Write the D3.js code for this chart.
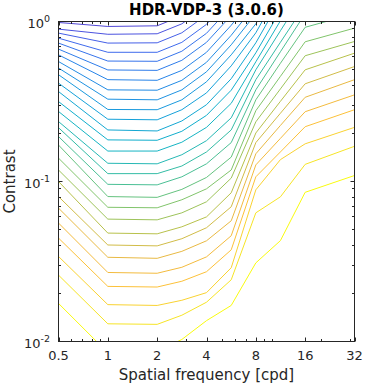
<!DOCTYPE html>
<html>
<head>
<meta charset="utf-8">
<script src="https://cdn.jsdelivr.net/npm/d3@7"></script>
<style>
    body { margin: 0; background: #fff; }
    svg { font-family: "DejaVu Sans", sans-serif; }
</style>
</head>
<body>
<svg id="plot" width="365" height="387"></svg>
<script>
// frequency nodes (cpd) where the contour lines bend
const freqs = [0.5, 1, 2, 2.83, 4, 5.66, 8, 11.3, 16, 32];

// contrast of every contour line at the nodes above, top line first
const contourLines = [
    [0.986, 0.931, 0.940, 1.085],
    [0.896, 0.832, 0.838, 0.967, 1.25],
    [0.846, 0.733, 0.736, 0.850, 1.10],
    [0.787, 0.642, 0.642, 0.741, 0.960, 1.42],
    [0.733, 0.566, 0.564, 0.652, 0.844, 1.24],
    [0.672, 0.498, 0.495, 0.572, 0.741, 1.09],
    [0.619, 0.433, 0.429, 0.495, 0.642, 0.947, 1.48],
    [0.562, 0.374, 0.372, 0.429, 0.556, 0.820, 1.28],
    [0.512, 0.327, 0.324, 0.374, 0.485, 0.715, 1.12],
    [0.465, 0.282, 0.281, 0.324, 0.420, 0.619, 0.967, 1.72],
    [0.412, 0.245, 0.243, 0.281, 0.358, 0.528, 0.850, 1.60],
    [0.365, 0.210, 0.207, 0.239, 0.302, 0.439, 0.736, 1.37],
    [0.316, 0.182, 0.181, 0.206, 0.259, 0.372, 0.637, 1.17],
    [0.274, 0.155, 0.155, 0.176, 0.218, 0.308, 0.560, 1.01, 1.82],
    [0.237, 0.130, 0.129, 0.147, 0.180, 0.250, 0.499, 0.875, 1.53],
    [0.217, 0.112, 0.112, 0.125, 0.153, 0.210, 0.433, 0.741, 1.27],
    [0.191, 0.0960, 0.0953, 0.107, 0.129, 0.175, 0.374, 0.647, 1.12, 1.37],
    [0.169, 0.0805, 0.0796, 0.0893, 0.106, 0.142, 0.324, 0.548, 0.920, 1.12],
    [0.140, 0.0690, 0.0685, 0.0769, 0.0900, 0.118, 0.277, 0.454, 0.747, 0.909],
    [0.118, 0.0582, 0.0576, 0.0637, 0.0747, 0.105, 0.236, 0.379, 0.611, 0.750],
    [0.100, 0.0476, 0.0471, 0.0521, 0.0601, 0.0850, 0.201, 0.317, 0.499, 0.634],
    [0.0805, 0.0401, 0.0396, 0.0439, 0.0514, 0.0695, 0.175, 0.267, 0.408, 0.523],
    [0.0682, 0.0336, 0.0331, 0.0366, 0.0426, 0.0568, 0.149, 0.224, 0.336, 0.433],
    [0.0550, 0.0270, 0.0267, 0.0291, 0.0338, 0.0458, 0.127, 0.186, 0.273, 0.348],
    [0.0443, 0.0221, 0.0219, 0.0238, 0.0273, 0.0374, 0.107, 0.153, 0.220, 0.281],
    [0.0340, 0.0170, 0.0168, 0.0181, 0.0202, 0.0289, 0.0887, 0.137, 0.172, 0.218],
    [0.0260, 0.0129, 0.0128, 0.0146, 0.0176, 0.0243, 0.0637, 0.0802, 0.128, 0.166],
    [0.0173, 0.00851, 0.00863, 0.0103, 0.0135, 0.0168, 0.0310, 0.0427, 0.0856, 0.109]
];

const xTicks = [0.5, 1, 2, 4, 8, 16, 32];
const xTickLabels = ["0.5", "1", "2", "4", "8", "16", "32"];
const yTicks = [1, 0.1, 0.01];
const yTickExps = ["0", "-1", "-2"];

const svg = d3.select("#plot");
const mLeft = 58.5, mRight = 354.5, mTop = 21.5, mBottom = 341.5;
const axisCol = "#262626";

const x = d3.scaleLog().domain([0.5, 32]).range([mLeft, mRight]);
const y = d3.scaleLog().domain([0.01, 1]).range([mBottom, mTop]);

// parula-like colormap
const parula = d3.scaleLinear()
    .domain([0, 0.06, 0.15, 0.25, 0.4, 0.5, 0.6, 0.68, 0.75, 0.82, 0.89, 0.96, 1])
    .range(["#352a87", "#5046d6", "#4266ec", "#2a80ea", "#159fda", "#10b2c8", "#3cbe9e",
            "#7cc46e", "#b4c24c", "#e6b844", "#fcbe3a", "#f6e02a", "#f9fb0e"]);

svg.append("clipPath").attr("id", "clip")
    .append("rect")
    .attr("x", mLeft).attr("y", mTop)
    .attr("width", mRight - mLeft).attr("height", mBottom - mTop);

const line = d3.line()
    .x(function(d, i) {return x(freqs[i])})
    .y(function(d) {return y(d)});

svg.append("g")
    .attr("clip-path", "url(#clip)")
    .selectAll("path")
    .data(contourLines)
    .enter().append("path")
        .attr("d", line)
        .attr("fill", "none")
        .attr("stroke-width", 1)
        .attr("stroke", function(d, i) {return parula(0.06 + 0.94 * i / (contourLines.length - 1))});

//frame
svg.append("rect")
    .attr("x", mLeft).attr("y", mTop)
    .attr("width", mRight - mLeft).attr("height", mBottom - mTop)
    .attr("fill", "none")
    .attr("stroke", axisCol)
    .attr("stroke-width", 1);

//ticks, inward on all four sides
const xMinor = x.ticks().filter(function(t) {return xTicks.indexOf(t) < 0});
const yMinor = y.ticks().filter(function(t) {return yTicks.indexOf(t) < 0});
const tg = svg.append("g").attr("stroke", axisCol).attr("stroke-width", 1);

xTicks.concat(xMinor).forEach(function(t) {
    const len = xTicks.indexOf(t) >= 0 ? 4 : 2.5;
    const px = Math.round(x(t)) + 0.5;
    tg.append("line").attr("x1", px).attr("x2", px).attr("y1", mBottom).attr("y2", mBottom - len);
    tg.append("line").attr("x1", px).attr("x2", px).attr("y1", mTop).attr("y2", mTop + len);
});
yTicks.concat(yMinor).forEach(function(t) {
    const len = yTicks.indexOf(t) >= 0 ? 4 : 2.5;
    const py = Math.round(y(t) - 0.5) + 0.5;
    tg.append("line").attr("x1", mLeft).attr("x2", mLeft + len).attr("y1", py).attr("y2", py);
    tg.append("line").attr("x1", mRight).attr("x2", mRight - len).attr("y1", py).attr("y2", py);
});

//tick labels
svg.selectAll(".xlab")
    .data(xTicks)
    .enter().append("text")
        .attr("x", function(d) {return x(d)})
        .attr("y", 360)
        .attr("text-anchor", "middle")
        .attr("font-size", "13px")
        .attr("fill", axisCol)
        .text(function(d, i) {return xTickLabels[i]});

yTicks.forEach(function(t, i) {
    const lab = svg.append("text")
        .attr("x", 50)
        .attr("y", y(t) + 6)
        .attr("text-anchor", "end")
        .attr("font-size", "13px")
        .attr("fill", axisCol);
    lab.append("tspan").text("10");
    lab.append("tspan")
        .attr("dy", -6)
        .attr("font-size", "9.5px")
        .text(yTickExps[i]);
});

//axis titles
svg.append("text")
    .attr("x", (mLeft + mRight) / 2)
    .attr("y", 380)
    .attr("text-anchor", "middle")
    .attr("font-size", "15px")
    .attr("fill", axisCol)
    .text("Spatial frequency [cpd]");

svg.append("text")
    .attr("transform", "translate(15," + ((mTop + mBottom) / 2) + ") rotate(-90)")
    .attr("text-anchor", "middle")
    .attr("font-size", "15px")
    .attr("fill", axisCol)
    .text("Contrast");

svg.append("text")
    .attr("x", (mLeft + mRight) / 2)
    .attr("y", 15)
    .attr("text-anchor", "middle")
    .attr("font-size", "15px")
    .attr("font-weight", "bold")
    .attr("fill", "#000")
    .text("HDR-VDP-3 (3.0.6)");
</script>
</body>
</html>
